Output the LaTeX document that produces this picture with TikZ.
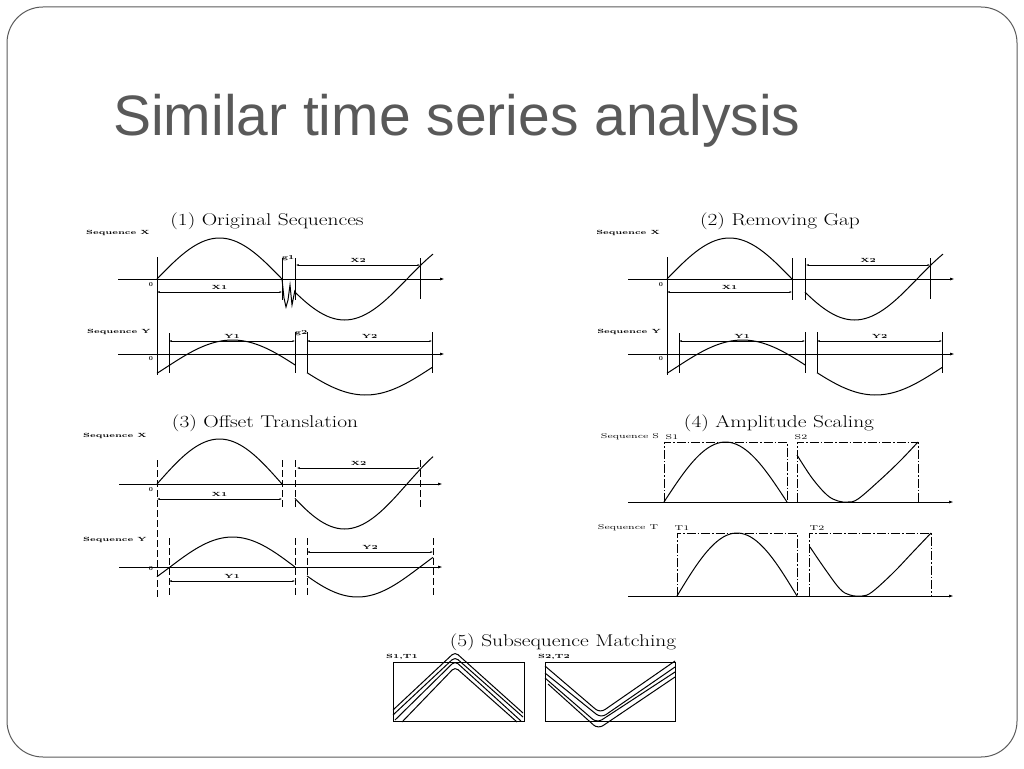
\documentclass[tikz,border=0pt]{standalone}
\usepackage{fontspec}
\newfontfamily\titlefont{Liberation Sans}
\usetikzlibrary{arrows.meta}
\tikzset{>={Latex[width=3pt,length=5pt]}}
\definecolor{titlegray}{RGB}{89,89,89}
\definecolor{framegray}{RGB}{90,90,90}
\tikzset{
  sigline/.style={line width=1pt},
  axisline/.style={line width=1pt,->},
  tickline/.style={line width=1pt},
  dashtick/.style={line width=1pt,dash pattern=on 7pt off 3pt},
  boxdash/.style={line width=1pt,dash pattern=on 9pt off 2pt on 1.5pt off 2pt},
  gapspan/.style={line width=0.9pt,{Latex[width=2pt,length=2.5pt]}-{Latex[width=2pt,length=2.5pt]}},
  tinylabel/.style={inner sep=0pt,font=\fontsize{6}{6}\selectfont\bfseries},
  smalllabel/.style={inner sep=0pt,font=\fontsize{7}{7}\selectfont},
  paneltitle/.style={inner sep=0pt,font=\fontsize{17}{17}\selectfont},
}

\begin{document}
\begin{tikzpicture}[x=1pt,y=-1pt]

  \newcommand\Wt[1]{\scalebox{1.26}[1]{#1}}
  \newcommand\Ws[1]{\scalebox{1.5}[1]{#1}}

  \useasboundingbox (0,0) rectangle (1024,768);
  \draw[framegray,line width=1pt,rounded corners=36pt] (7,7) rectangle (1017,757);
  \node[anchor=base west,inner sep=0pt,text=titlegray,
        font=\titlefont\fontsize{57}{57}\selectfont] (title) at (113,135) {Similar time series analysis};

  %% (1) and (2): same sequences, gap taken out in (2)
  \node[paneltitle] (t1) at (267,221) {\Wt{(1) Original Sequences}};
  \node[paneltitle] (t2) at (780,221) {\Wt{(2) Removing Gap}};

  \foreach \dx in {0,510}{
  \begin{scope}[xshift=\dx pt]
    \node[tinylabel] (sqx\dx) at (118,233) {\Ws{Sequence X}};
    \node[tinylabel] (sqy\dx) at (119,332) {\Ws{Sequence Y}};
    \node[tinylabel] (zx\dx) at (151,285) {0};
    \node[tinylabel] (zy\dx) at (151,359) {0};

    \draw[axisline] (118,279) -- (445,279); % X axis
    \draw[axisline] (118,354) -- (445,354); % Y axis
    \draw[tickline] (157,257) -- (157,375);

    \draw[tickline] (282,258) -- (282,300);
    \draw[tickline] (295,258) -- (295,300);
    \draw[tickline] (420,258) -- (420,299);
    \draw[tickline] (169,333) -- (169,373);
    \draw[tickline] (295,332) -- (295,373);
    \draw[tickline] (307,332) -- (307,373);
    \draw[tickline] (432,332) -- (432,373);

    \draw[sigline] plot[domain=157:282,samples=40] (\x,{279-41*sin(1.44*(\x-157))});
    \draw[sigline] plot[domain=295:433,samples=40] (\x,{279-41*sin(1.44*(\x-157))});
    \draw[sigline] plot[domain=157:295,samples=40] (\x,{367.5-27.5*sin(1.35338*(\x-166))});
    \draw[sigline] plot[domain=307:432,samples=40] (\x,{367.5-27.5*sin(1.35338*(\x-166))});

    \draw[gapspan] (157,292) -- node[tinylabel,above=2pt] (x1\dx) {\Ws{X1}} (282,292);
    \draw[gapspan] (296,265) -- node[tinylabel,above=2pt] (x2\dx) {\Ws{X2}} (420,265);
    \draw[gapspan] (169,341) -- node[tinylabel,above=2pt] (y1\dx) {\Ws{Y1}} (295,341);
    \draw[gapspan] (307,341) -- node[tinylabel,above=2pt] (y2\dx) {\Ws{Y2}} (432,341);
  \end{scope}
  }
  \draw[sigline] (282,279) -- (284,298) -- (286,307) -- (288,300) -- (290,285) -- (292,305) -- (295,290); % noise
  \node[tinylabel] (g1) at (288,258) {\Ws{g1}};
  \node[tinylabel] (g2) at (301,333) {\Ws{g2}};

  %% (3) offset translation
  \node[paneltitle] (t3) at (265,423) {\Wt{(3) Offset Translation}};
  \node[tinylabel] (sqx3) at (115,436) {\Ws{Sequence X}};
  \node[tinylabel] (sqy3) at (115,540) {\Ws{Sequence Y}};
  \node[tinylabel] (zx3) at (151,490) {0};
  \node[tinylabel] (zy3) at (151,569) {0};

  \draw[axisline] (119,484) -- (443,484);
  \draw[axisline] (119,567) -- (443,567);
  \draw[dashtick] (157,460) -- (157,598);
  \draw[dashtick] (282,460) -- (282,507);
  \draw[dashtick] (295,460) -- (295,507);
  \draw[dashtick] (420,460) -- (420,507);
  \draw[dashtick] (169,538) -- (169,598);
  \draw[dashtick] (295,538) -- (295,598);
  \draw[dashtick] (307,538) -- (307,598);
  \draw[dashtick] (433,538) -- (433,598);

  \draw[sigline] plot[domain=157:282,samples=40] (\x,{484-45*sin(1.44*(\x-157))});
  \draw[sigline] plot[domain=295:433,samples=40] (\x,{484-45*sin(1.44*(\x-157))});
  \draw[sigline] plot[domain=157:295,samples=40] (\x,{567-30*sin(1.44*(\x-170))});
  \draw[sigline] plot[domain=307:433,samples=40] (\x,{567-30*sin(1.44*(\x-170))});

  \draw[gapspan] (157,499) -- node[tinylabel,above=2pt] (x13) {\Ws{X1}} (282,499);
  \draw[gapspan] (297,468) -- node[tinylabel,above=2pt] (x23) {\Ws{X2}} (420,468);
  \draw[gapspan] (169,581) -- node[tinylabel,above=2pt] (y13) {\Ws{Y1}} (295,581);
  \draw[gapspan] (307,552) -- node[tinylabel,above=2pt] (y23) {\Ws{Y2}} (433,552);

  %% (4) amplitude scaling
  \node[paneltitle] (t4) at (779,423) {\Wt{(4) Amplitude Scaling}};
  \node[smalllabel] (sqs) at (630,437) {\Ws{Sequence S}};
  \node[smalllabel] (s1) at (672,437) {\Ws{S1}};
  \node[smalllabel] (s2) at (801,437) {\Ws{S2}};
  \node[smalllabel] (sqt) at (628,528) {\Ws{Sequence T}};
  \node[smalllabel] (tt1) at (682,528) {\Ws{T1}};
  \node[smalllabel] (tt2) at (817,528) {\Ws{T2}};

  \draw[axisline] (628,502) -- (954,502);
  \draw[axisline] (628,596) -- (954,596);
  \draw[boxdash] (664,502) -- (664,442) -- (787,442) -- (787,502);
  \draw[boxdash] (797,502) -- (797,442) -- (918,442) -- (918,502);
  \draw[boxdash] (677,596) -- (677,533) -- (797,533) -- (797,596);
  \draw[boxdash] (809,596) -- (809,533) -- (931,533) -- (931,596);

  \draw[sigline] plot[domain=664:787,samples=40] (\x,{502-60*sin(1.46341*(\x-664))});
  \draw[sigline] plot[smooth,tension=0.6] coordinates {(797,455) (812,478) (827,495) (838,501) (848,502) (858,499) (880,480) (900,461) (918,442)};
  \draw[sigline] plot[domain=677:797,samples=40] (\x,{596-63*sin(1.5*(\x-677))});
  \draw[sigline] plot[smooth,tension=0.6] coordinates {(810,547) (825,569) (840,589) (850,595) (862,596) (872,592) (893,573) (912,553) (931,533)};

  %% (5) subsequence matching
  \node[paneltitle] (t5) at (563,642) {\Wt{(5) Subsequence Matching}};
  \node[tinylabel] (m1) at (402,657) {\Ws{S1,T1}};
  \node[tinylabel] (m2) at (554,657) {\Ws{S2,T2}};

  \draw[tickline] (393,662) rectangle (524,721);
  \draw[tickline] (545,662) rectangle (675,721);
  \draw[sigline,rounded corners=4pt] (393,710) -- (455,652) -- (523,713);
  \draw[sigline,rounded corners=4pt] (393,715) -- (455,657) -- (523,717);
  \draw[sigline,rounded corners=4pt] (395,720) -- (455,661) -- (521,721);
  \draw[sigline,rounded corners=4pt] (402,722) -- (455,667) -- (517,722);
  \draw[sigline,rounded corners=6pt] (545,666) -- (600,713) -- (675,661);
  \draw[sigline,rounded corners=6pt] (545,673) -- (601,718) -- (675,667);
  \draw[sigline,rounded corners=6pt] (545,678) -- (597,723) -- (675,672);
  \draw[sigline,rounded corners=6pt] (548,684) -- (598,729) -- (675,677);

\end{tikzpicture}
\end{document}
